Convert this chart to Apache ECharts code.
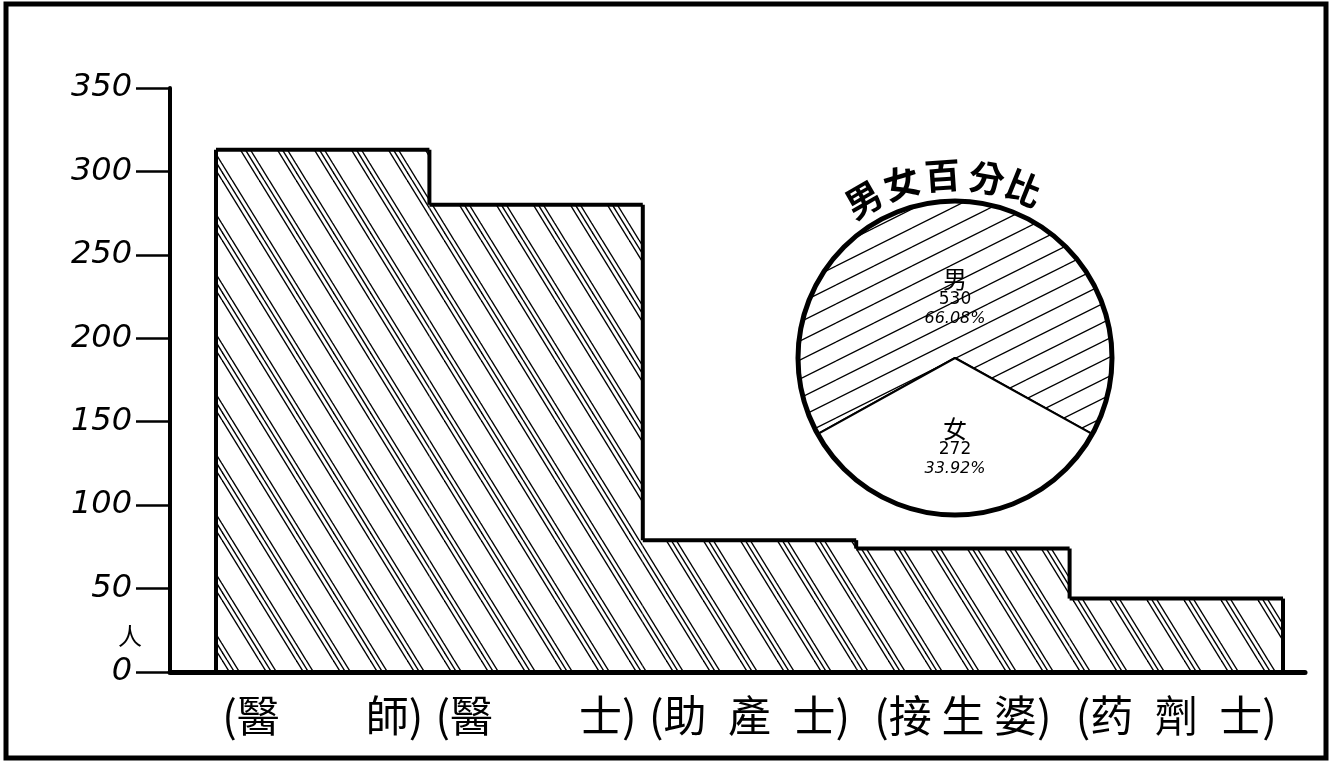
<!DOCTYPE html>
<html><head><meta charset="utf-8">
<script src="https://cdn.jsdelivr.net/npm/echarts@6/dist/echarts.min.js"></script>
<style>html,body{margin:0;padding:0;background:#fff}#c{width:1334px;height:766px}</style>
</head><body><div id="c"></div>
<script>
// ---- data ----
const categories = ['(醫\u3000\u3000師)', '(醫\u3000\u3000士)', '(助\u2002產\u2002士)', '(接 生 婆)', '(药\u2002劑\u2002士)'];
const counts = [313, 280, 79, 74, 44];
const yTicks = [0, 50, 100, 150, 200, 250, 300, 350];
const genderNames = ['男', '女'];
const genderCounts = [530, 272];
const pieTitle = ['男', '女', '百', '分', '比'];

// ---- hatch patterns ----
function barHatch() {
  const W = 37, H = 60;
  const c = document.createElement('canvas'); c.width = W; c.height = H;
  const g = c.getContext('2d');
  g.strokeStyle = '#000'; g.lineWidth = 1.4;
  [0, 5, 10].forEach(o => {
    [-W, 0, W].forEach(s => {
      g.beginPath(); g.moveTo(o + s, 0); g.lineTo(o + s + W, H); g.stroke();
    });
  });
  return c;
}
function pieHatch() {
  const W = 38, H = 19;
  const c = document.createElement('canvas'); c.width = W; c.height = H;
  const g = c.getContext('2d');
  g.strokeStyle = '#000'; g.lineWidth = 1.3;
  [-1, 0, 1].forEach(sx => [-1, 0, 1].forEach(sy => {
    g.beginPath(); g.moveTo(sx * W, H + sy * H); g.lineTo(W + sx * W, sy * H); g.stroke();
  }));
  return c;
}
const barPattern = { image: barHatch(), repeat: 'repeat' };
const piePattern = { image: pieHatch(), repeat: 'repeat' };

const chart = echarts.init(document.getElementById('c'));
const pieCx = 955, pieCy = 358, pieR = 157;
const titleAngles = [-30, -17, -4, 10, 22];
const titleGraphics = pieTitle.map((ch, k) => {
  const a = titleAngles[k] * Math.PI / 180;
  const r = 183;
  return {
    type: 'text',
    x: pieCx + r * Math.sin(a), y: pieCy - r * Math.cos(a),
    rotation: -a,
    style: { text: ch, font: 'bold 36px "Noto Sans CJK TC"', fill: '#000', align: 'center', verticalAlign: 'middle' },
    z: 10
  };
});

const richLabel = {
  n: { fontSize: 24, fontFamily: '"Noto Sans CJK TC"', color: '#000', lineHeight: 24 },
  v: { fontSize: 17, fontFamily: '"DejaVu Sans"', color: '#000', lineHeight: 19 },
  p: { fontSize: 16, fontFamily: '"DejaVu Sans"', fontStyle: 'italic', color: '#000', lineHeight: 19 }
};

const option = {
  backgroundColor: '#fff',
  animation: false,
  grid: [
    { left: 170, right: 29, top: 88, bottom: 94 },
    { left: 216, right: 51, top: 88, bottom: 94 }
  ],
  xAxis: [
    { gridIndex: 0, type: 'value', min: 0, max: 1, axisLine: { show: true, onZero: false, lineStyle: { color: '#000', width: 5 } },
      axisTick: { show: false }, axisLabel: { show: false }, splitLine: { show: false } },
    { gridIndex: 1, type: 'category', data: categories, axisLine: { show: false }, axisTick: { show: false },
      axisLabel: { interval: 0, margin: 22, color: '#000', fontSize: 43, fontFamily: '"Noto Sans CJK TC"' } }
  ],
  yAxis: [
    { gridIndex: 0, type: 'value', min: 0, max: 350, interval: 50,
      axisLine: { show: true, lineStyle: { color: '#000', width: 4 } },
      axisTick: { show: true, length: 34, lineStyle: { color: '#000', width: 2.5 } },
      axisLabel: { margin: 38, color: '#000', fontSize: 32, fontStyle: 'italic', fontFamily: '"DejaVu Sans"',
        formatter: v => yTicks.includes(v) ? String(v) : '' },
      splitLine: { show: false } },
    { gridIndex: 1, type: 'value', min: 0, max: 350, show: false }
  ],
  series: [
    {
      type: 'custom', xAxisIndex: 1, yAxisIndex: 1,
      data: counts.map((v, i) => [i, v]),
      renderItem: function (params, api) {
        const i = api.value(0), v = api.value(1);
        const top = api.coord([i, v]);
        const base = api.coord([i, 0]);
        const w = api.size([1, 0])[0];
        const x0 = top[0] - w / 2, x1 = top[0] + w / 2;
        const prevY = api.coord([i, i > 0 ? counts[i - 1] : 0])[1];
        const children = [
          { type: 'rect', shape: { x: x0, y: top[1], width: w, height: base[1] - top[1] }, style: { fill: barPattern } },
          { type: 'line', shape: { x1: x0, y1: top[1], x2: x1, y2: top[1] }, style: { stroke: '#000', lineWidth: 4 } },
          { type: 'line', shape: { x1: x0, y1: prevY, x2: x0, y2: top[1] }, style: { stroke: '#000', lineWidth: 4 } }
        ];
        if (i === counts.length - 1) {
          children.push({ type: 'line', shape: { x1: x1, y1: top[1], x2: x1, y2: base[1] }, style: { stroke: '#000', lineWidth: 4 } });
        }
        return { type: 'group', children };
      },
      z: 2
    },
    {
      type: 'pie', center: [pieCx, pieCy], radius: pieR, startAngle: 90 + (360 * genderCounts[0] / (genderCounts[0] + genderCounts[1])) / 2,
      clockwise: true,
      data: [
        { name: genderNames[0], value: genderCounts[0], itemStyle: { color: piePattern }, label: { padding: [42, 0, 0, 0] } },
        { name: genderNames[1], value: genderCounts[1], itemStyle: { color: '#fff' }, label: { padding: [16, 0, 0, 0] } }
      ],
      itemStyle: { borderColor: '#000', borderWidth: 2 },
      label: {
        position: 'inside', color: '#000',
        formatter: '{n|{b}}\n{v|{c}}\n{p|{d}%}',
        rich: richLabel
      },
      labelLine: { show: false },
      emphasis: { disabled: true },
      z: 5
    },
    {
      type: 'pie', center: [pieCx, pieCy], radius: pieR, silent: true,
      data: [{ value: 1, name: 'outline' }],
      itemStyle: { color: 'rgba(0,0,0,0)', borderColor: '#000', borderWidth: 5 },
      label: { show: false }, labelLine: { show: false }, z: 6
    }
  ],
  graphic: [
    { type: 'rect', shape: { x: 6, y: 4, width: 1320, height: 754 }, style: { fill: 'none', stroke: '#000', lineWidth: 5 }, z: 20 },
    { type: 'text', x: 130, y: 636, style: { text: '人', font: '24px "Noto Sans CJK TC"', fill: '#000', align: 'center', verticalAlign: 'middle' } },
    ...titleGraphics
  ]
};
chart.setOption(option);
</script>
</body></html>
